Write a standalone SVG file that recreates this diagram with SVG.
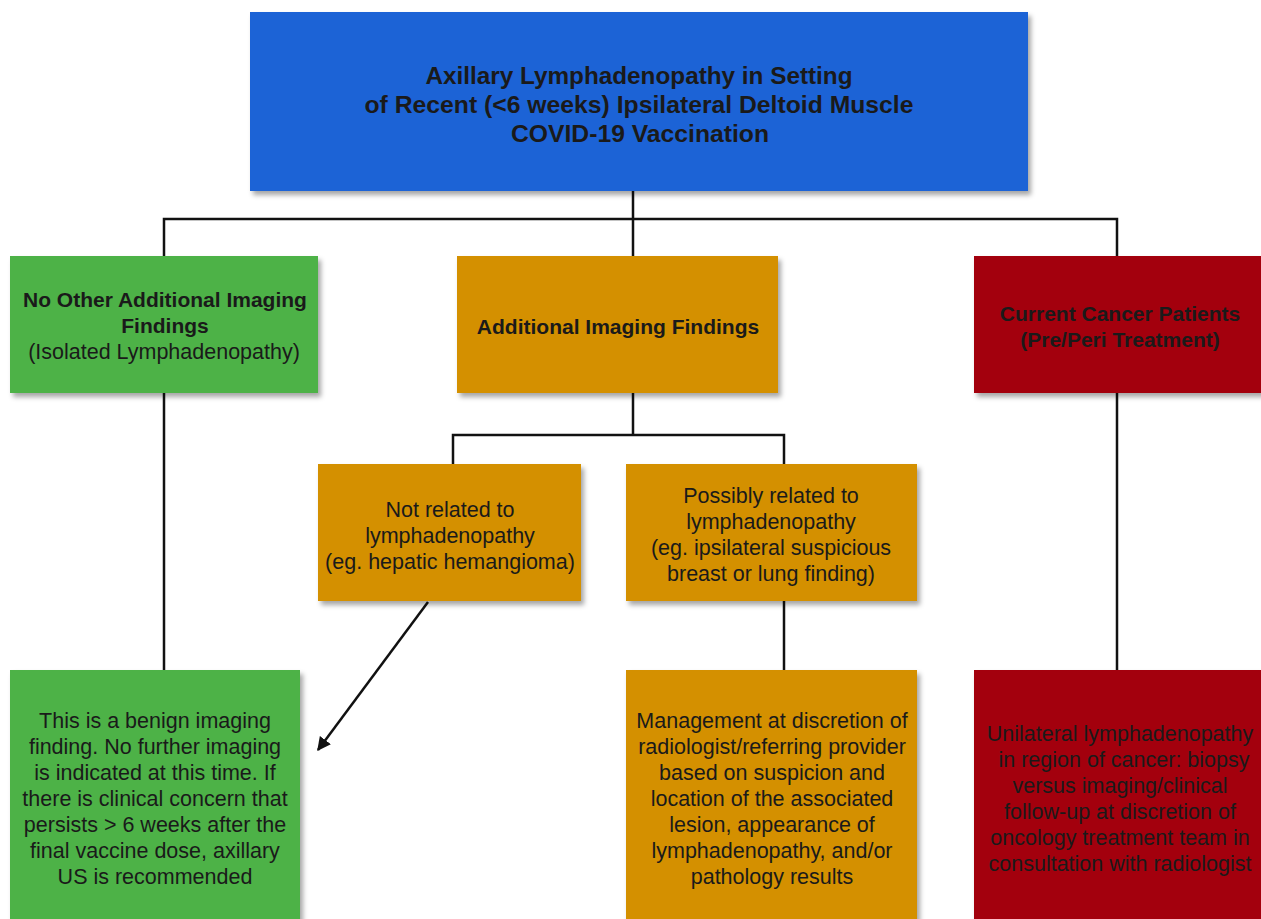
<svg xmlns="http://www.w3.org/2000/svg" width="1261" height="919" viewBox="0 0 1261 919">
<style>
.t{font-family:"Liberation Sans",Arial,sans-serif;font-size:21.5px;fill:#1a1a1a;text-anchor:middle}
.b{font-weight:bold;font-size:21px}
.h{font-family:"Liberation Sans",Arial,sans-serif;font-size:24px;font-weight:bold;fill:#1a1a1a;text-anchor:middle}
.ln{stroke:#111;stroke-width:2.5;fill:none}
.blue{fill:#1F63D6}.green{fill:#4DB247}.orange{fill:#D49000}.red{fill:#A3000F}
</style>
<defs>
<filter id="sh" x="-5%" y="-5%" width="115%" height="115%">
<feDropShadow dx="3" dy="4" stdDeviation="2.5" flood-color="#000" flood-opacity="0.35"/>
</filter>
<marker id="ah" viewBox="0 0 10 10" refX="9" refY="5" markerWidth="5.5" markerHeight="5.5" orient="auto" markerUnits="strokeWidth">
<path d="M0,0 L10,5 L0,10 Z" fill="#111"/>
</marker>
</defs>
<g id="connectors">
<path class="ln" d="M633,191 V256 M164,256 V219 H1117 V256"/>
<path class="ln" d="M633,393 V435 M453,464 V435 H784 V464"/>
<path class="ln" d="M164,393 V670"/>
<path class="ln" d="M1117,393 V670"/>
<path class="ln" d="M784,601 V670"/>
<line class="ln" x1="428" y1="602" x2="318" y2="750" marker-end="url(#ah)"/>
</g>
<g id="top">
<rect class="blue" x="250" y="12" width="778" height="179" filter="url(#sh)"/>
<text class="h" x="639" y="84" textLength="427" lengthAdjust="spacingAndGlyphs">Axillary Lymphadenopathy in Setting</text>
<text class="h" x="639" y="113" textLength="549" lengthAdjust="spacingAndGlyphs">of Recent (&lt;6 weeks) Ipsilateral Deltoid Muscle</text>
<text class="h" x="640" y="142" textLength="258" lengthAdjust="spacingAndGlyphs">COVID-19 Vaccination</text>
</g>
<g id="isolated">
<rect class="green" x="10" y="256" width="308" height="137" filter="url(#sh)"/>
<text class="t b" x="165" y="307">No Other Additional Imaging</text>
<text class="t b" x="165" y="333">Findings</text>
<text class="t" x="164" y="359">(Isolated Lymphadenopathy)</text>
</g>
<g id="additional">
<rect class="orange" x="457" y="256" width="321" height="137" filter="url(#sh)"/>
<text class="t b" x="618" y="334">Additional Imaging Findings</text>
</g>
<g id="cancer">
<rect class="red" x="974" y="256" width="290" height="137" filter="url(#sh)"/>
<text class="t b" x="1120" y="321">Current Cancer Patients</text>
<text class="t b" x="1120" y="347">(Pre/Peri Treatment)</text>
</g>
<g id="notrelated">
<rect class="orange" x="318" y="464" width="263" height="137" filter="url(#sh)"/>
<text class="t" x="450" y="517">Not related to</text>
<text class="t" x="450" y="543">lymphadenopathy</text>
<text class="t" x="450" y="569">(eg. hepatic hemangioma)</text>
</g>
<g id="possibly">
<rect class="orange" x="626" y="464" width="291" height="137" filter="url(#sh)"/>
<text class="t" x="771" y="503">Possibly related to</text>
<text class="t" x="771" y="529">lymphadenopathy</text>
<text class="t" x="771" y="555">(eg. ipsilateral suspicious</text>
<text class="t" x="771" y="581">breast or lung finding)</text>
</g>
<g id="benign">
<rect class="green" x="10" y="670" width="290" height="260" filter="url(#sh)"/>
<text class="t" x="155" y="728">This is a benign imaging</text>
<text class="t" x="155" y="754">finding. No further imaging</text>
<text class="t" x="155" y="780">is indicated at this time. If</text>
<text class="t" x="155" y="806">there is clinical concern that</text>
<text class="t" x="155" y="832">persists &gt; 6 weeks after the</text>
<text class="t" x="155" y="858">final vaccine dose, axillary</text>
<text class="t" x="155" y="884">US is recommended</text>
</g>
<g id="management">
<rect class="orange" x="626" y="670" width="291" height="260" filter="url(#sh)"/>
<text class="t" x="772" y="728">Management at discretion of</text>
<text class="t" x="772" y="754">radiologist/referring provider</text>
<text class="t" x="772" y="780">based on suspicion and</text>
<text class="t" x="772" y="806">location of the associated</text>
<text class="t" x="772" y="832">lesion, appearance of</text>
<text class="t" x="772" y="858">lymphadenopathy, and/or</text>
<text class="t" x="772" y="884">pathology results</text>
</g>
<g id="unilateral">
<rect class="red" x="974" y="670" width="290" height="260" filter="url(#sh)"/>
<text class="t" x="1120" y="741">Unilateral lymphadenopathy</text>
<text class="t" x="1124" y="767">in region of cancer: biopsy</text>
<text class="t" x="1120" y="793">versus imaging/clinical</text>
<text class="t" x="1120" y="819">follow-up at discretion of</text>
<text class="t" x="1120" y="845">oncology treatment team in</text>
<text class="t" x="1120" y="871">consultation with radiologist</text>
</g>
</svg>
